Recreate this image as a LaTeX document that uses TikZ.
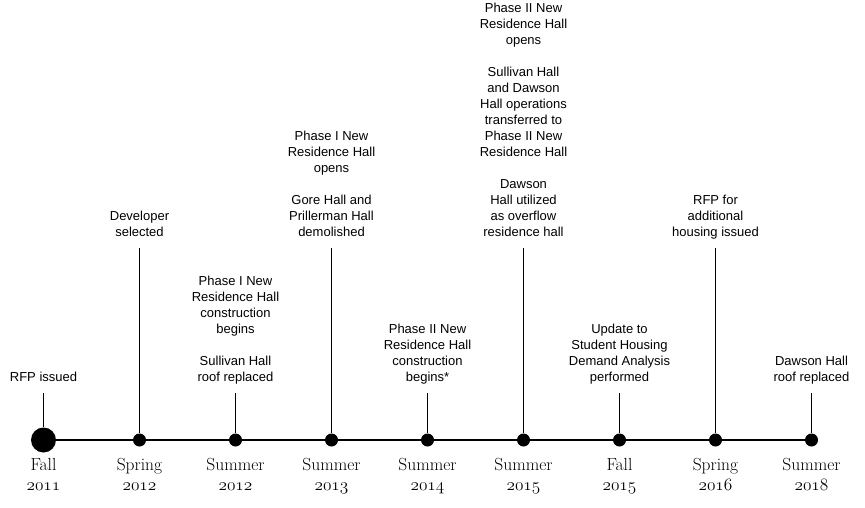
\documentclass[tikz,border=0pt]{standalone}
\usepackage{fontspec}
\usepackage{tikz}
\newfontfamily\eventfont{Liberation Sans}
\newcommand{\oldyear}[1]{{\fontsize{16}{20}\usefont{OML}{cmm}{m}{it}#1}}
\newcommand{\topstrut}{\rule{0pt}{12pt}}
\newcommand{\botstrut}{\rule[-4pt]{0pt}{4pt}}

\begin{document}
\begin{tikzpicture}[x=1pt, y=-1pt,
    dot/.style={circle, fill=black, inner sep=0pt, minimum size=13pt},
    event/.style={font=\eventfont\fontsize{13}{16}\selectfont, align=center,
                  inner sep=0pt, outer sep=7.5pt, anchor=south},
    season/.style={font=\fontsize{17.5}{20}\selectfont, align=center,
                   inner sep=0pt, anchor=north}]
             \useasboundingbox (0,0) rectangle (865,508);

             \node[dot, minimum size=25pt] (d1) at (43.5,440) {};
             \node[dot] (d2) at (139.5,440) {};
             \node[dot] (d3) at (235.5,440) {};
             \node[dot] (d4) at (331.5,440) {};
             \node[dot] (d5) at (427.5,440) {};
             \node[dot] (d6) at (523.5,440) {};
             \node[dot] (d7) at (619.5,440) {};
             \node[dot] (d8) at (715.5,440) {};
             \node[dot] (d9) at (811.5,440) {};
             \draw[line width=1.3pt] (d1) -- (d9);

             \node[event] (e1) at (43.5,392.5) {RFP issued\botstrut};
             \node[event] (e2) at (139.5,248) {Developer\\selected\botstrut};
             \node[event] (e3) at (235.5,392.5) {Phase I New\\Residence Hall\\construction\\begins\\[16pt]Sullivan Hall\\roof replaced\botstrut};
             \node[event] (e4) at (331.5,248) {Phase I New\\Residence Hall\\opens\\[16pt]Gore Hall and\\Prillerman Hall\\demolished\botstrut};
             \node[event] (e5) at (427.5,392.5) {Phase II New\\Residence Hall\\construction\\begins*\botstrut};
             \node[event] (e6) at (523.5,248) {Phase II New\\Residence Hall\\opens\\[16pt]Sullivan Hall\\and Dawson\\Hall operations\\transferred to\\Phase II New\\Residence Hall\\[16pt]Dawson\\Hall utilized\\as overflow\\residence hall\botstrut};
             \node[event] (e7) at (619.5,392.5) {Update to\\Student Housing\\Demand Analysis\\performed\botstrut};
             \node[event] (e8) at (715.5,248) {RFP for\\additional\\housing issued\botstrut};
             \node[event] (e9) at (811.5,392.5) {Dawson Hall\\roof replaced\botstrut};

             \draw[line width=1pt] (d1) -- (e1);
             \draw[line width=1pt] (d2) -- (e2);
             \draw[line width=1pt] (d3) -- (e3);
             \draw[line width=1pt] (d4) -- (e4);
             \draw[line width=1pt] (d5) -- (e5);
             \draw[line width=1pt] (d6) -- (e6);
             \draw[line width=1pt] (d7) -- (e7);
             \draw[line width=1pt] (d8) -- (e8);
             \draw[line width=1pt] (d9) -- (e9);

             \node[season] (s1) at (43.5,458.5) {\topstrut Fall\\\oldyear{2011}};
             \node[season] (s2) at (139.5,458.5) {\topstrut Spring\\\oldyear{2012}};
             \node[season] (s3) at (235.5,458.5) {\topstrut Summer\\\oldyear{2012}};
             \node[season] (s4) at (331.5,458.5) {\topstrut Summer\\\oldyear{2013}};
             \node[season] (s5) at (427.5,458.5) {\topstrut Summer\\\oldyear{2014}};
             \node[season] (s6) at (523.5,458.5) {\topstrut Summer\\\oldyear{2015}};
             \node[season] (s7) at (619.5,458.5) {\topstrut Fall\\\oldyear{2015}};
             \node[season] (s8) at (715.5,458.5) {\topstrut Spring\\\oldyear{2016}};
             \node[season] (s9) at (811.5,458.5) {\topstrut Summer\\\oldyear{2018}};
             \end{tikzpicture}
\end{document}
